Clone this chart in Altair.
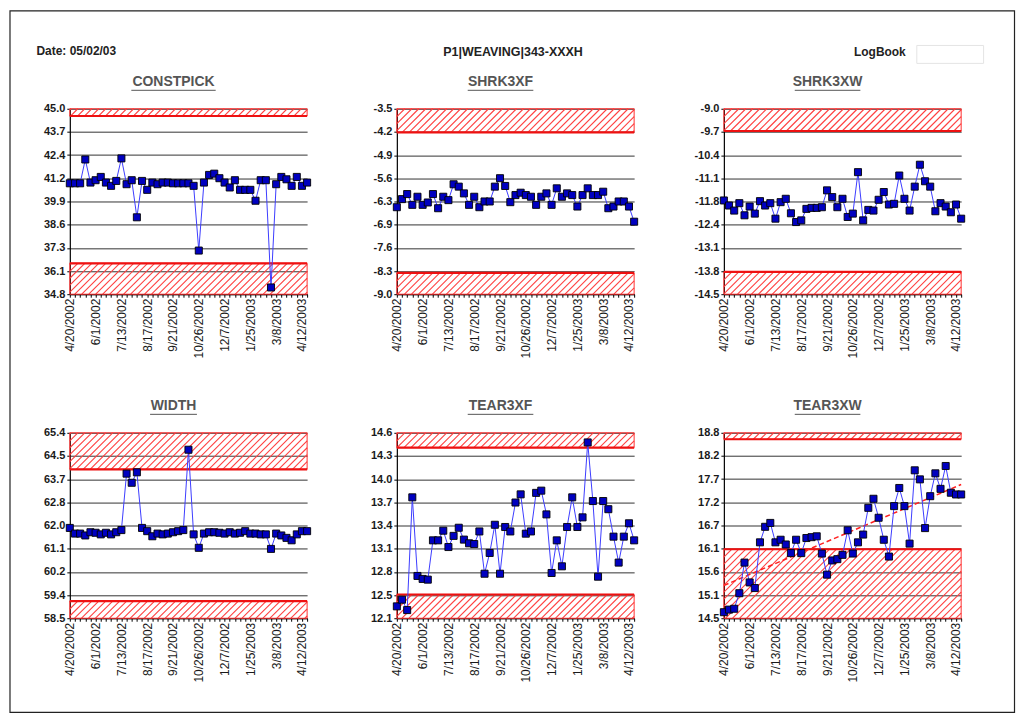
import altair as alt
import pandas as pd

# ---------------- data ----------------
N_CAT = 47
LABEL_STEP = 5
x_tick_labels = ["4/20/2002", "6/1/2002", "7/13/2002", "8/17/2002", "9/21/2002",
                 "10/26/2002", "12/7/2002", "1/25/2003", "3/8/2003", "4/12/2003"]

titles = ["CONSTPICK", "SHRK3XF", "SHRK3XW", "WIDTH", "TEAR3XF", "TEAR3XW"]

constpick = [40.90, 40.90, 40.90, 42.21, 40.94, 41.07, 41.25, 40.94, 40.76, 41.03,
             42.27, 40.85, 41.07, 39.03, 41.03, 40.54, 40.94, 40.85, 40.94, 40.94,
             40.90, 40.90, 40.90, 40.90, 40.76, 37.20, 40.94, 41.36, 41.43, 41.18,
             40.94, 40.67, 41.07, 40.54, 40.54, 40.54, 39.94, 41.07, 41.07, 35.17,
             40.85, 41.25, 41.12, 40.76, 41.25, 40.76, 40.94]
shrk3xf = [-6.42, -6.18, -6.03, -6.35, -6.11, -6.35, -6.28, -6.03, -6.45, -6.11,
           -6.21, -5.74, -5.81, -6.01, -6.35, -6.11, -6.42, -6.25, -6.25, -5.81,
           -5.56, -5.79, -6.27, -6.06, -5.99, -6.06, -6.11, -6.35, -6.11, -6.01,
           -6.35, -5.86, -6.11, -6.01, -6.06, -6.40, -6.06, -5.86, -6.06, -6.06,
           -5.96, -6.45, -6.40, -6.25, -6.25, -6.40, -6.85]
shrk3xw = [-11.72, -11.87, -12.02, -11.80, -12.16, -11.90, -12.11, -11.74, -11.87, -11.80,
           -12.26, -11.77, -11.67, -12.10, -12.36, -12.31, -11.97, -11.94, -11.94, -11.92,
           -11.42, -11.62, -11.92, -11.67, -12.21, -12.11, -10.88, -12.31, -12.00, -12.02,
           -11.70, -11.47, -11.84, -11.82, -10.98, -11.67, -12.02, -11.31, -10.66, -11.15,
           -11.31, -12.04, -11.80, -11.90, -12.07, -11.84, -12.26]
width = [61.86, 61.65, 61.65, 61.58, 61.70, 61.68, 61.62, 61.68, 61.62, 61.70,
         61.78, 63.88, 63.54, 63.93, 61.86, 61.74, 61.55, 61.65, 61.62, 61.65,
         61.70, 61.74, 61.78, 64.77, 61.62, 61.12, 61.65, 61.70, 61.70, 61.68,
         61.65, 61.70, 61.65, 61.68, 61.74, 61.65, 61.65, 61.62, 61.62, 61.08,
         61.65, 61.58, 61.49, 61.40, 61.62, 61.74, 61.74]
tear3xf = [12.26, 12.35, 12.21, 13.73, 12.67, 12.63, 12.62, 13.15, 13.15, 13.28,
           13.06, 13.21, 13.32, 13.16, 13.11, 13.10, 13.27, 12.70, 12.98, 13.36,
           12.70, 13.33, 13.27, 13.66, 13.77, 13.24, 13.27, 13.79, 13.82, 13.50,
           12.71, 13.15, 12.80, 13.33, 13.73, 13.33, 13.46, 14.47, 13.68, 12.66,
           13.68, 13.57, 13.20, 12.85, 13.20, 13.38, 13.15]
tear3xw = [14.64, 14.70, 14.72, 15.08, 15.79, 15.33, 15.20, 16.26, 16.62, 16.71,
           16.26, 16.32, 16.21, 16.01, 16.32, 16.01, 16.36, 16.38, 16.40, 16.00,
           15.51, 15.84, 15.87, 15.97, 16.54, 16.00, 16.26, 16.44, 17.06, 17.27,
           16.83, 16.32, 15.93, 17.10, 17.52, 17.10, 16.23, 17.93, 17.72, 16.59,
           17.33, 17.86, 17.50, 18.03, 17.41, 17.37, 17.37]
series = [constpick, shrk3xf, shrk3xw, width, tear3xf, tear3xw]

y_min = [34.8, -9.0, -14.5, 58.5, 12.1, 14.5]
y_max = [45.0, -3.5, -9.0, 65.4, 14.6, 18.8]
y_tick_labels = [
    ["45.0", "43.7", "42.4", "41.2", "39.9", "38.6", "37.3", "36.1", "34.8"],
    ["-3.5", "-4.2", "-4.9", "-5.6", "-6.3", "-6.9", "-7.6", "-8.3", "-9.0"],
    ["-9.0", "-9.7", "-10.4", "-11.1", "-11.8", "-12.4", "-13.1", "-13.8", "-14.5"],
    ["65.4", "64.5", "63.7", "62.8", "62.0", "61.1", "60.2", "59.4", "58.5"],
    ["14.6", "14.3", "14.0", "13.7", "13.4", "13.1", "12.8", "12.5", "12.1"],
    ["18.8", "18.2", "17.7", "17.2", "16.7", "16.1", "15.6", "15.1", "14.5"],
]
lower_limit = [36.5, -8.37, -13.84, 59.14, 12.42, 16.1]
upper_limit = [44.6, -4.2, -9.66, 64.04, 14.4, 18.65]
show_trend = [False, False, False, False, False, True]

header_date = "Date: 05/02/03"
header_title = "P1|WEAVING|343-XXXH"
header_log = "LogBook"

# ---------------- style / layout ----------------
FONT = "Liberation Sans, Arial, sans-serif"
PW, PH = 238, 186
HATCH_GAP = 7.0


def hatch_rows(lo, hi, ymin, ymax):
    rows = []
    span = ymax - ymin
    top = PH * (ymax - hi) / span
    bot = PH * (ymax - lo) / span
    c = top + 1.0
    while c < PW + bot:
        xa = max(0.0, c - bot)
        xb = min(float(PW), c - top)
        if xb - xa > 0.3:
            rows.append({"x": xa / PW * (N_CAT - 1), "y": ymax - (c - xa) / PH * span,
                         "x2": xb / PW * (N_CAT - 1), "y2": ymax - (c - xb) / PH * span})
        c += HATCH_GAP
    return rows


def one():
    return alt.Data(values=[{}])


def make_panel(k):
    vals = series[k]
    ymin, ymax = y_min[k], y_max[k]
    step = (ymax - ymin) / 8
    yticks = [ymin + i * step for i in range(9)]
    ylab = "[" + ",".join("'%s'" % s for s in y_tick_labels[k]) + "]"
    y_expr = "%s[round((%s - datum.value) / %s)]" % (ylab, repr(ymax), repr(step))
    xlab = "[" + ",".join("'%s'" % s for s in x_tick_labels) + "]"
    x_expr = "datum.value %% %d == 0 ? %s[datum.value / %d] : ''" % (LABEL_STEP, xlab, LABEL_STEP)

    xs = alt.Scale(domain=[0, N_CAT - 1], nice=False, zero=False)
    ys = alt.Scale(domain=[ymin, ymax], nice=False, zero=False)
    x_axis = alt.Axis(values=list(range(N_CAT)), labelExpr=x_expr, labelAngle=-90,
                      labelFont=FONT, labelFontSize=12, labelColor="#1a1a1a",
                      tickSize=3, tickColor="#000", domainColor="#000", domainWidth=1.2,
                      grid=False, title=None, labelOverlap=False, labelFlush=False,
                      labelBound=False, labelPadding=1)
    y_axis = alt.Axis(values=yticks, labelExpr=y_expr, labelFont=FONT, labelFontSize=11,
                      labelFontWeight="bold", labelColor="#1a1a1a", tickSize=3,
                      tickColor="#000", domainColor="#000", domainWidth=1.2,
                      grid=True, gridColor="#333", gridWidth=1, title=None,
                      labelOverlap=False, labelFlush=False, labelPadding=2)

    def X(f):
        return alt.X(f, type="quantitative", scale=xs, axis=x_axis)

    def Y(f):
        return alt.Y(f, type="quantitative", scale=ys, axis=y_axis)

    df = pd.DataFrame({"x": list(range(N_CAT)), "y": vals})
    hatch = pd.DataFrame(hatch_rows(ymin, lower_limit[k], ymin, ymax)
                         + hatch_rows(upper_limit[k], ymax, ymin, ymax))
    bands = pd.DataFrame({"x": [0, 0], "xe": [N_CAT - 1, N_CAT - 1],
                          "lo": [ymin, upper_limit[k]], "hi": [lower_limit[k], ymax]})
    limits = pd.DataFrame({"x": [0, 0], "xe": [N_CAT - 1, N_CAT - 1],
                           "lim": [lower_limit[k], upper_limit[k]]})

    layers = [
        alt.Chart(hatch).mark_rule(color="#ff4040", strokeWidth=1.1).encode(
            x=X("x"), y=Y("y"), x2="x2:Q", y2="y2:Q"),
        alt.Chart(bands).mark_rect(fillOpacity=0, stroke="#ff3030", strokeWidth=1).encode(
            x=X("x"), x2="xe:Q", y=Y("lo"), y2="hi:Q"),
        alt.Chart(limits).mark_rule(color="#ee1111", strokeWidth=2.2).encode(
            x=X("x"), x2="xe:Q", y=Y("lim")),
    ]
    if show_trend[k]:
        layers.append(alt.Chart(df).transform_regression("x", "y").mark_line(
            color="#ff2020", strokeDash=[5, 3], strokeWidth=1.5).encode(x=X("x"), y=Y("y")))
    layers += [
        alt.Chart(df).mark_line(color="#3c3cff", strokeWidth=1).encode(x=X("x"), y=Y("y")),
        alt.Chart(df).mark_square(color="#0000c0", size=50, opacity=1, stroke="#000",
                                  strokeWidth=0.9).encode(x=X("x"), y=Y("y")),
    ]
    # panel title with underline
    tw = 9.4 * len(titles[k])
    tx = 104
    layers += [
        alt.Chart(one()).mark_text(text=titles[k], font=FONT, fontSize=14, fontWeight="bold",
                                   color="#555", align="center", baseline="middle").encode(
            x=alt.value(tx), y=alt.value(-27)),
        alt.Chart(one()).mark_rule(color="#555", strokeWidth=1).encode(
            x=alt.value(tx - tw / 2), x2=alt.value(tx + tw / 2), y=alt.value(-18.5)),
    ]
    if k == 0:
        layers += [
            alt.Chart(one()).mark_rect(fillOpacity=0, stroke="#222", strokeWidth=1.2).encode(
                x=alt.value(-60), x2=alt.value(947.5), y=alt.value(-98.2), y2=alt.value(605.5)),
            alt.Chart(one()).mark_text(text=header_date, font=FONT, fontSize=12,
                                       fontWeight="bold", color="#222", align="left",
                                       baseline="middle").encode(
                x=alt.value(-33.5), y=alt.value(-57.5)),
            alt.Chart(one()).mark_text(text=header_title, font=FONT, fontSize=12.5,
                                       fontWeight="bold", color="#222", align="center",
                                       baseline="middle").encode(
                x=alt.value(444.5), y=alt.value(-57)),
            alt.Chart(one()).mark_text(text=header_log, font=FONT, fontSize=12,
                                       fontWeight="bold", color="#222", align="left",
                                       baseline="middle").encode(
                x=alt.value(786.5), y=alt.value(-56.5)),
            alt.Chart(one()).mark_rect(fill="white", stroke="#e4e4e4", strokeWidth=1).encode(
                x=alt.value(849.5), x2=alt.value(916.5), y=alt.value(-63.5), y2=alt.value(-45.5)),
        ]
    return alt.layer(*layers).properties(width=PW, height=PH)


panels = [make_panel(k) for k in range(6)]

chart = alt.concat(
    *panels, columns=3, spacing={"row": 139, "column": 90}, bounds="flush"
).properties(
    padding={"left": 0, "top": 0, "right": 0, "bottom": 0}
).configure_view(stroke="transparent")

chart.save("out.html", embed_options={"renderer": "svg", "actions": False})
